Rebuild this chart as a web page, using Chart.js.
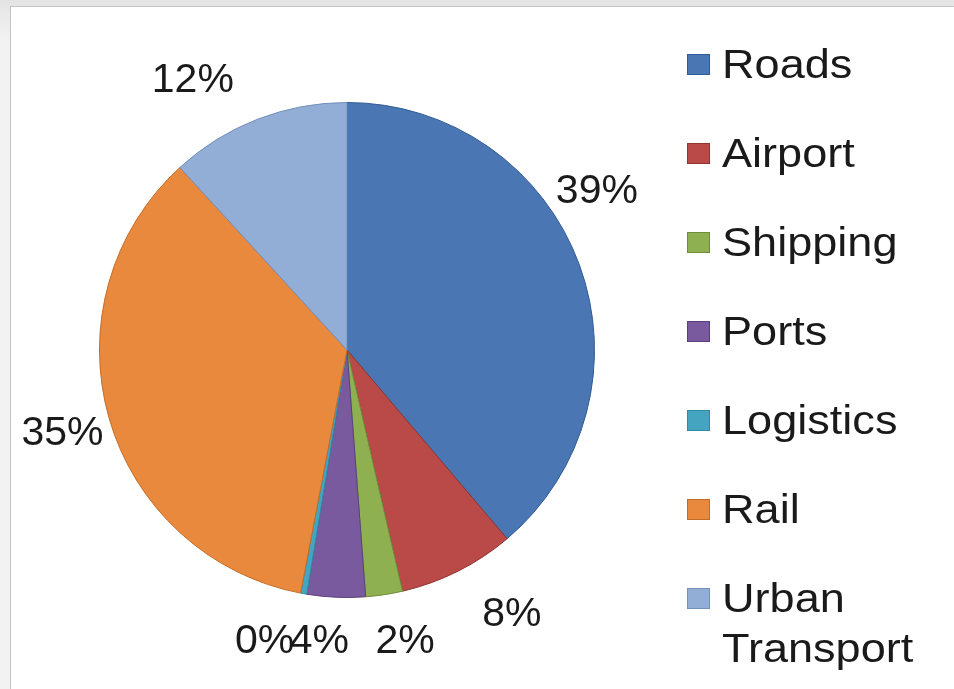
<!DOCTYPE html>
<html>
<head>
<meta charset="utf-8">
<script src="https://cdn.jsdelivr.net/npm/chart.js@4.4.1/dist/chart.umd.min.js"></script>
<style>
  html, body { margin: 0; padding: 0; }
  body { width: 954px; height: 689px; overflow: hidden; position: relative;
         background: linear-gradient(#e4e4e4, #f2f2f2 40px, #f2f2f2); font-family: "Liberation Sans", Arial, sans-serif; }
  #frame { position: absolute; left: 10px; top: 6px; right: 0; bottom: 0; background: #fff;
           border-top: 1px solid #c4c4c4; border-left: 1px solid #c4c4c4; }
  #c { position: absolute; left: 0; top: 0; }
  #legend { position: absolute; left: 687px; top: 39px; }
  .item { position: relative; height: 89px; }
  .box { position: absolute; left: 0; top: 15px; width: 21px; height: 19px; border: 1px solid; }
  .txt { position: absolute; left: 35px; top: 0; font-size: 41px; line-height: 50px; color: #1a1a1a; white-space: nowrap;
         transform: scaleX(1.1); transform-origin: left top; }
</style>
</head>
<body>
<div id="frame"></div>
<canvas id="c" width="954" height="689"></canvas>
<div id="legend"></div>
<script>
const categories = ["Roads", "Airport", "Shipping", "Ports", "Logistics", "Rail", "Urban Transport"];
const legendLines = [["Roads"], ["Airport"], ["Shipping"], ["Ports"], ["Logistics"], ["Rail"], ["Urban", "Transport"]];
const shares = [38.8, 7.6, 2.4, 3.8, 0.4, 35.2, 11.8];
const fillColors = ["#4a77b4", "#b94a47", "#8fb050", "#7a5a9e", "#45a5c0", "#e8893d", "#93aed6"];
const edgeColors = ["#2f5a92", "#8e3431", "#6e8c3a", "#5a3f7d", "#2f8aa3", "#c46c26", "#7390bb"];

// label nudges (pixels) relative to the default outside position
const labelNudges = [[-20, -59], [36, 8], [15, 7], [-15, 4], [-32, 9], [-8, 5], [-50, -1]];

const total = shares.reduce((a, b) => a + b, 0);

const outsideLabels = {
  id: 'outsideLabels',
  afterDatasetsDraw(chart) {
    const ctx = chart.ctx;
    const meta = chart.getDatasetMeta(0);
    ctx.save();
    ctx.font = '41px "Liberation Sans", Arial, sans-serif';
    ctx.fillStyle = '#1a1a1a';
    ctx.textAlign = 'center';
    ctx.textBaseline = 'middle';
    meta.data.forEach((arc, i) => {
      const p = arc.getProps(['x', 'y', 'startAngle', 'endAngle', 'outerRadius'], true);
      const mid = (p.startAngle + p.endAngle) / 2;
      const d = p.outerRadius + 40;
      const x = p.x + Math.cos(mid) * d + labelNudges[i][0];
      const y = p.y + Math.sin(mid) * d + labelNudges[i][1];
      const pct = Math.round(shares[i] / total * 100);
      ctx.fillText(pct + '%', x, y);
    });
    ctx.restore();
  }
};

new Chart(document.getElementById('c'), {
  type: 'pie',
  data: {
    labels: categories,
    datasets: [{
      data: shares,
      backgroundColor: fillColors,
      borderColor: edgeColors,
      borderWidth: 1
    }]
  },
  options: {
    responsive: false,
    animation: false,
    layout: { padding: { left: 99, top: 102, right: 359, bottom: 91 } },
    plugins: { legend: { display: false }, tooltip: { enabled: false } }
  },
  plugins: [outsideLabels]
});

const legend = document.getElementById('legend');
legendLines.forEach((lines, i) => {
  const item = document.createElement('div');
  item.className = 'item';
  const box = document.createElement('div');
  box.className = 'box';
  box.style.background = fillColors[i];
  box.style.borderColor = edgeColors[i];
  const txt = document.createElement('div');
  txt.className = 'txt';
  txt.innerHTML = lines.join('<br>');
  item.appendChild(box);
  item.appendChild(txt);
  legend.appendChild(item);
});
</script>
</body>
</html>
